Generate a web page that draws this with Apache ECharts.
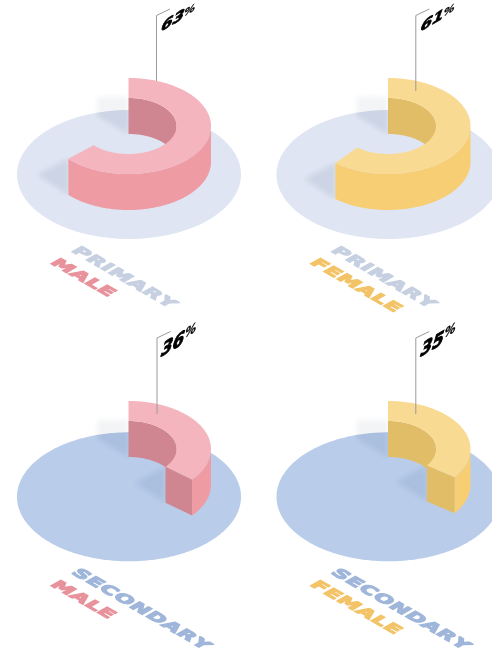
<!DOCTYPE html>
<html>

	<head>
		<meta charset="UTF-8">
		<title>Enrolment</title>
		<script src="https://cdn.jsdelivr.net/npm/echarts@6/dist/echarts.min.js"></script>
		<style>
			html, body { margin: 0; background: #fff; }
			#main { width: 492px; height: 648px; }
		</style>
	</head>

	<body>
		<div id="main"></div>
		<script>
			var levels = ['PRIMARY', 'PRIMARY', 'SECONDARY', 'SECONDARY'];
			var genders = ['MALE', 'FEMALE', 'MALE', 'FEMALE'];
			var percents = [63, 61, 36, 35];

			var palette = {
				MALE: { top: '#f4b5be', outer: '#ee9ba3', inner: '#cf8691', text: '#e8929c' },
				FEMALE: { top: '#f9da92', outer: '#f7ce73', inner: '#e2bd68', text: '#f3c367' },
				PRIMARY: { base: '#dfe5f2', text: '#c6d0e1' },
				SECONDARY: { base: '#b9cdeb', text: '#9fb6da' }
			};

			var RX = 82.5, RY = 48, IRX = 48, IRY = 28, H = 36;
			var measure = document.createElement('canvas').getContext('2d');

			function arc(cx, cy, rx, ry, from, to) {
				var pts = [], n = Math.max(1, Math.ceil(Math.abs(to - from)));
				for (var i = 0; i <= n; i++) {
					var a = (from + (to - from) * i / n) * Math.PI / 180;
					pts.push([cx + rx * Math.sin(a), cy - ry * Math.cos(a)]);
				}
				return pts;
			}

			function poly(points, fill) {
				return { type: 'polygon', shape: { points: points }, style: { fill: fill } };
			}

			// soft shadow: only the blur of an off-screen shape lands on the canvas
			function blurShape(points, color, blur, clip) {
				var el = {
					type: 'polygon',
					shape: { points: points.map(function(p) { return [p[0] - 2000, p[1]]; }) },
					style: { fill: '#000', shadowColor: color, shadowBlur: blur, shadowOffsetX: 2000 }
				};
				if (clip) el.clipPath = { type: 'polygon', shape: { points: clip } };
				return el;
			}

			// text under a linear map (a,b is where x goes, c,d where y goes), split into rotate / scale / rotate
			function mapped(x, y, a, b, c, d, children) {
				var E = (a + d) / 2, F = (a - d) / 2, G = (c + b) / 2, Hh = (b - c) / 2;
				var Q = Math.hypot(E, Hh), R = Math.hypot(F, G);
				var a1 = Math.atan2(G, F), a2 = Math.atan2(Hh, E);
				return {
					type: 'group', x: x, y: y, rotation: -(a2 + a1) / 2, scaleX: Q + R, scaleY: Q - R,
					children: [{ type: 'group', rotation: -(a2 - a1) / 2, children: children }]
				};
			}

			function label(text, size, color, x, y, heavy) {
				return {
					type: 'text', x: x, y: y,
					style: {
						text: text, fill: color, font: '900 ' + size + 'px "DejaVu Sans"', align: 'left', verticalAlign: 'middle',
						stroke: color, lineWidth: heavy
					}
				};
			}

			// zrender has no letter spacing, so each letter goes on its own
			function spaced(text, size, color, gap, heavy) {
				var x = 0, out = [];
				measure.font = '900 ' + size + 'px "DejaVu Sans"';
				text.split('').forEach(function(ch) {
					out.push(label(ch, size, color, x, 0, heavy));
					x += measure.measureText(ch).width + gap;
				});
				return out;
			}

			function renderPanel(params, api) {
				var i = params.dataIndex, value = api.value(0);
				var col = i % 2, row = i >> 1;
				var dx = col * 259.5, dy = row * 323;
				var cx = 128.5 + dx, cy = 126 + dy;
				var bx = 129 + dx, by = 174.5 + row * 322.3;
				var end = value * 3.6;
				var c = palette[genders[i]], lv = palette[levels[i]];
				var kids = [];

				var basePts = arc(bx, by, 112, 64.5, 0, 360);
				kids.push(poly(basePts, lv.base));

				// back shadow behind the start of the ring, then the one at its end
				var backShadow = [[cx, cy + 8], [cx, cy - 29], [cx - 31, cy - 29], [cx - 31, cy - 10]];
				var endO = arc(cx, cy, RX, RY, end, end)[0], endI = arc(cx, cy, IRX, IRY, end, end)[0];
				var p = endO[0] < endI[0] ? endO : endI;
				var frontShadow = [[p[0], p[1] + H], [p[0], p[1]], [p[0] - 31, p[1] + H - 20]];
				[backShadow, frontShadow].forEach(function(s) {
					kids.push(blurShape(s, 'rgba(90,100,130,0.07)', 5));
					kids.push(blurShape(s, 'rgba(60,90,150,0.05)', 5, basePts));
				});

				var tipX = col ? 415.8 : (row ? 157 : 156.5), topY = 15.5 + row * 322.5;
				var leader = {
					type: 'polyline',
					shape: { points: [[tipX, i === 0 ? cy - 45 : cy - 35], [tipX, topY], [tipX + 13.5, topY - 6.5]] },
					style: { fill: null, stroke: '#9a9a9a', lineWidth: 1 }
				};
				if (i === 0) kids.push(leader);

				// walls
				var innerEnd = Math.min(90, end);
				kids.push(poly(arc(cx, cy, IRX, IRY, 0, innerEnd).concat(arc(cx, cy + H, IRX, IRY, innerEnd, 0)), c.inner));
				if (end < 180) {
					kids.push(poly([endI, endO, [endO[0], endO[1] + H], [endI[0], endI[1] + H]], c.inner));
				}
				kids.push(poly(arc(cx, cy, RX, RY, 90, end).concat(arc(cx, cy + H, RX, RY, end, 90)), c.outer));
				kids.push(poly(arc(cx, cy, RX, RY, 0, end).concat(arc(cx, cy, IRX, IRY, end, 0)), c.top));

				if (i !== 0) kids.push(leader);

				// percent on a vertical plane, squatter in the top row
				var lx = 161 + dx, ly = (row ? 352 : 28);
				kids.push(mapped(lx, ly, 0.866, -0.5, -0.3, row ? 1.1 : 0.85, [
					label(String(value), 19, '#000', 0, 0, 1),
					label('%', 13, '#000', 26, row ? -4 : -1, 0.4)
				]));

				// names lying on the ground plane
				kids.push(mapped(74 + dx, 249 + row * 322, 0.866 * 1.42, 0.5 * 1.42, -0.91, 0.525, spaced(levels[i], 15, lv.text, 0.55, 1.3)));
				kids.push(mapped(53 + dx, 261 + row * 322, 0.866 * 1.42, 0.5 * 1.42, -0.91, 0.525, spaced(genders[i], 15, c.text, 0.55, 1.3)));

				return { type: 'group', children: kids };
			}

			var myChart = echarts.init(document.getElementById('main'));
			myChart.setOption({
				backgroundColor: '#fff',
				animation: false,
				series: [{
					type: 'custom',
					coordinateSystem: 'none',
					renderItem: renderPanel,
					data: percents.map(function(v) { return [v]; }),
					silent: true
				}]
			});
		</script>
	</body>

</html>
